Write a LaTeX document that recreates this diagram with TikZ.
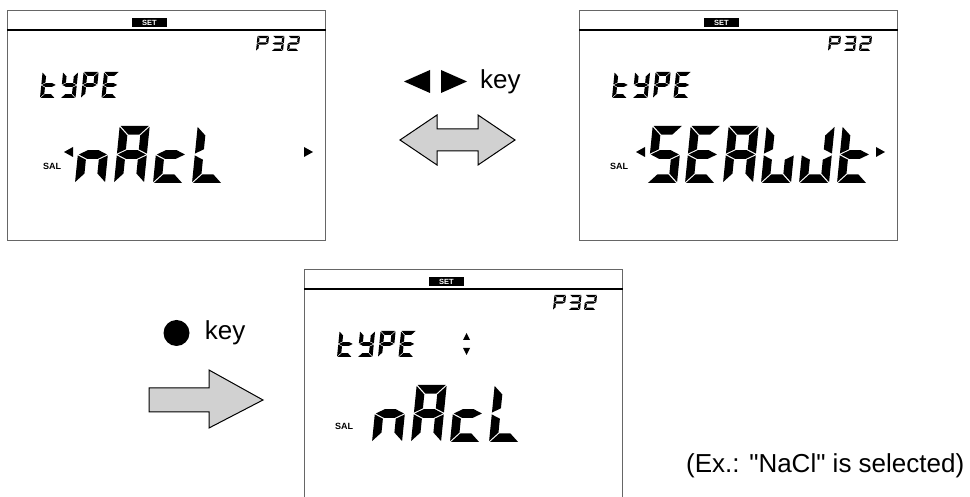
\documentclass[tikz,border=0pt]{standalone}
\usepackage{fontspec}
\setmainfont{Liberation Sans}[Ligatures=TeXOff]
\usetikzlibrary{positioning}

% bars of a seven-segment digit (outer edges flush with the cell)
\newcommand{\deflcdseg}[2]{\expandafter\def\csname lcdseg#1\endcsname{\fill[lcdseg] #2 -- cycle;}}
\deflcdseg{a}{({\lcG},{\lcH}) -- ({\lcW-\lcG},{\lcH}) -- ({\lcW-\lcT-\lcG},{\lcH-\lcT}) -- ({\lcT+\lcG},{\lcH-\lcT})}
\deflcdseg{d}{({\lcG},0) -- ({\lcW-\lcG},0) -- ({\lcW-\lcT-\lcG},{\lcT}) -- ({\lcT+\lcG},{\lcT})}
\deflcdseg{f}{(0,{\lcH-\lcG}) -- ({\lcT},{\lcH-\lcT-\lcG}) -- ({\lcT},{\lcH/2+\lcT/2+\lcG}) -- (0,{\lcH/2+\lcG})}
\deflcdseg{e}{(0,{\lcG}) -- ({\lcT},{\lcT+\lcG}) -- ({\lcT},{\lcH/2-\lcT/2-\lcG}) -- (0,{\lcH/2-\lcG})}
\deflcdseg{b}{({\lcW},{\lcH-\lcG}) -- ({\lcW-\lcT},{\lcH-\lcT-\lcG}) -- ({\lcW-\lcT},{\lcH/2+\lcT/2+\lcG}) -- ({\lcW},{\lcH/2+\lcG})}
\deflcdseg{c}{({\lcW},{\lcG}) -- ({\lcW-\lcT},{\lcT+\lcG}) -- ({\lcW-\lcT},{\lcH/2-\lcT/2-\lcG}) -- ({\lcW},{\lcH/2-\lcG})}
\deflcdseg{g}{({\lcG},{\lcH/2}) -- ({\lcT+\lcG},{\lcH/2+\lcT/2}) -- ({\lcW-\lcT-\lcG},{\lcH/2+\lcT/2}) -- ({\lcW-\lcG},{\lcH/2}) -- ({\lcW-\lcT-\lcG},{\lcH/2-\lcT/2}) -- ({\lcT+\lcG},{\lcH/2-\lcT/2})}

% which bars each character lights (w and J together make a W)
\newcommand{\deflcdchar}[2]{\expandafter\def\csname lcdchar#1\endcsname{#2}}
\deflcdchar{A}{a,b,c,e,f,g}
\deflcdchar{E}{a,d,e,f,g}
\deflcdchar{S}{a,c,d,f,g}
\deflcdchar{L}{d,e,f}
\deflcdchar{w}{c,d,e,f}
\deflcdchar{J}{b,c,d,e}
\deflcdchar{t}{d,e,f,g}
\deflcdchar{Y}{b,c,d,f,g}
\deflcdchar{P}{a,b,e,f,g}
\deflcdchar{n}{c,e,g}
\deflcdchar{c}{d,e,g}
\deflcdchar{2}{a,b,d,e,g}
\deflcdchar{3}{a,b,c,d,g}

% one digit: x, y of lower left, width, height, bars
\newcommand{\lcdglyph}[5]{%
  \begin{scope}[shift={({#1},{#2})},xslant=0.1]
    \pgfmathsetmacro\lcW{#3}
    \pgfmathsetmacro\lcH{#4}
    \pgfmathsetmacro\lcT{0.15*#4}
    \pgfmathsetmacro\lcG{0.012*#4+0.25}
    \edef\lcsegs{#5}
    \foreach \sg in \lcsegs {\csname lcdseg\sg\endcsname}
  \end{scope}}

% a word: x, y, width, height, pitch, characters
\newcommand{\lcdword}[6]{%
  \foreach \ch [count=\ci from 0] in {#6}{%
    \lcdglyph{#1+\ci*#5}{#2}{#3}{#4}{\csname lcdchar\ch\endcsname}}}

% header line, SET mark, parameter number and title of a display
\newcommand{\lcdhead}[1]{%
  \draw[sepline] ([yshift=-20pt]#1.north west) -- ([yshift=-20pt]#1.north east);
  \node[setbox] (#1set) at ([xshift=142.5pt,yshift=-12.5pt]#1.north west) {SET};
  \begin{scope}[shift={(#1.north west)}]
    \lcdword{249}{-41}{11.5}{15}{15.5}{P,3,2}
    \lcdword{33}{-88}{15}{26}{20.5}{t,Y,P,E}
  \end{scope}}

\begin{document}
\begin{tikzpicture}[x=1pt,y=1pt,
    lcd/.style={draw=black!60, line width=0.9pt, minimum width=318pt, minimum height=230pt, inner sep=0pt, anchor=north west},
    sepline/.style={line width=1.5pt},
    setbox/.style={fill=black, text=white, font=\bfseries\fontsize{7.5}{8}\selectfont, minimum width=35pt, minimum height=9.5pt, inner sep=0pt},
    lcdseg/.style={fill=black},
    tag/.style={font=\bfseries\fontsize{9}{10}\selectfont, inner sep=0pt, anchor=base west},
    keylbl/.style={font=\fontsize{26}{30}\selectfont, inner sep=0pt},
    bigarrow/.style={draw=black, line width=1pt, fill=black!18, line join=miter}]
    \useasboundingbox (0,0) rectangle (970,497);

    % the three displays
    \node[lcd] (disp1) at (7,487) {};
    \node[lcd] (disp2) at (579,487) {};
    \node[lcd] (disp3) at (304,228) {};
    \lcdhead{disp1}
    \lcdhead{disp2}
    \lcdhead{disp3}

    % first display
    \begin{scope}[shift={(disp1.north west)}]
        \lcdword{68}{-173}{30}{57}{39}{n,A,c,L}
        \fill (57,-142) -- (66,-137) -- (66,-147) -- cycle;
        \fill (306,-142) -- (297,-137) -- (297,-147) -- cycle;
    \end{scope}
    \node[tag] (sal1) at ([xshift=36pt,yshift=-160pt]disp1.north west) {SAL};

    % second display
    \begin{scope}[shift={(disp2.north west)}]
        \lcdword{68}{-173}{30}{57}{38}{S,E,A,w,J,t}
        \fill (57,-142) -- (66,-137) -- (66,-147) -- cycle;
        \fill (306,-142) -- (297,-137) -- (297,-147) -- cycle;
    \end{scope}
    \node[tag] (sal2) at ([xshift=31pt,yshift=-160pt]disp2.north west) {SAL};

    % third display
    \begin{scope}[shift={(disp3.north west)}]
        \lcdword{68}{-173}{30}{57}{39}{n,A,c,L}
        \fill (159,-71) -- (166,-71) -- (162.5,-64) -- cycle;
        \fill (159,-79) -- (166,-79) -- (162.5,-86) -- cycle;
    \end{scope}
    \node[tag] (sal3) at ([xshift=31pt,yshift=-161pt]disp3.north west) {SAL};

    % left/right keys
    \fill (404,415.5) -- (430,427) -- (430,404) -- cycle;
    \fill (467,415.5) -- (441,427) -- (441,404) -- cycle;
    \node[keylbl, anchor=west] (lrkey) at (480,415) {key};
    \draw[bigarrow] (400,357) -- (437,382) -- (437,368) -- (478,368) -- (478,382)
        -- (515,357) -- (478,332) -- (478,346) -- (437,346) -- (437,332) -- cycle;

    % enter key
    \node[circle, fill=black, minimum size=26pt, inner sep=0pt] (okdot) at (176.5,164) {};
    \node[keylbl, right=15pt of okdot] (okkey) {key};
    \draw[bigarrow] (149,109) -- (209,109) -- (209,127) -- (263,97) -- (209,69)
        -- (209,85) -- (149,85) -- cycle;

    \node[keylbl, anchor=west] (note) at (686,31.5) {(Ex.: "NaCl" is selected)};
\end{tikzpicture}
\end{document}
